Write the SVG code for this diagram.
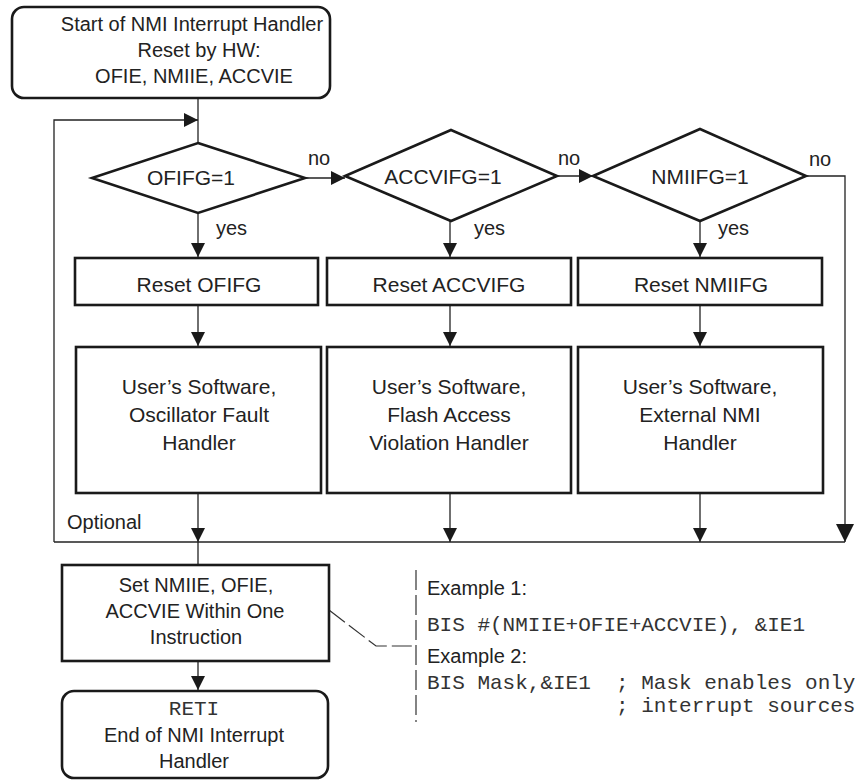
<svg xmlns="http://www.w3.org/2000/svg" width="866" height="781" viewBox="0 0 866 781">
<defs>
<style>
.box{fill:#fff;stroke:#1a1a1a;stroke-width:2.6}
.t{font-family:"Liberation Sans",Arial,sans-serif;font-size:20px;fill:#222;text-anchor:middle}
.t2{font-family:"Liberation Sans",Arial,sans-serif;font-size:21px;fill:#222;text-anchor:middle}
.l{font-family:"Liberation Sans",Arial,sans-serif;font-size:20px;fill:#222}
.m{font-family:"Liberation Mono","Courier New",monospace;font-size:21px;fill:#333}
.c{fill:none;stroke:#222;stroke-width:1.3}
.d{fill:none;stroke:#333;stroke-width:1.2;stroke-dasharray:20 5}
</style>
<marker id="a" viewBox="0 0 12 12" refX="12" refY="6" markerWidth="14" markerHeight="14" markerUnits="userSpaceOnUse" orient="auto"><path d="M0,0 L12,6 L0,12 z" fill="#1a1a1a"/></marker>
<marker id="b" viewBox="0 0 12 12" refX="12" refY="6" markerWidth="18" markerHeight="18" markerUnits="userSpaceOnUse" orient="auto"><path d="M0,0 L12,6 L0,12 z" fill="#1a1a1a"/></marker>
</defs>

<g id="connectors">
<path class="c" d="M198,98 V143"/>
<path class="c" d="M54,542 V120 H198" marker-end="url(#a)"/>
<path class="c" d="M305,178 H345" marker-end="url(#a)"/>
<path class="c" d="M557,176 H593" marker-end="url(#a)"/>
<path class="c" d="M806,176 H845 V542" marker-end="url(#b)"/>
<path class="c" d="M198,213 V257" marker-end="url(#a)"/>
<path class="c" d="M450,221 V257" marker-end="url(#a)"/>
<path class="c" d="M700,221 V257" marker-end="url(#a)"/>
<path class="c" d="M198,305 V346" marker-end="url(#a)"/>
<path class="c" d="M450,305 V346" marker-end="url(#a)"/>
<path class="c" d="M700,305 V346" marker-end="url(#a)"/>
<path class="c" d="M198,493 V542" marker-end="url(#a)"/>
<path class="c" d="M450,493 V542" marker-end="url(#a)"/>
<path class="c" d="M700,493 V542" marker-end="url(#a)"/>
<path class="c" d="M54,542 H845"/>
<path class="c" d="M198,542 V565"/>
<path class="c" d="M198,661 V690" marker-end="url(#a)"/>
<path class="d" d="M329,610 L376,646 H416"/>
<path class="d" d="M416,570 V722"/>
<text class="l" x="308" y="165">no</text>
<text class="l" x="558" y="165">no</text>
<text class="l" x="809" y="166">no</text>
<text class="l" x="216" y="235">yes</text>
<text class="l" x="474" y="235">yes</text>
<text class="l" x="718" y="235">yes</text>
<text class="l" x="67" y="529">Optional</text>
</g>

<g id="start">
<rect class="box" x="12" y="7" width="318" height="91" rx="12"/>
<text class="t" x="192" y="31">Start of NMI Interrupt Handler</text>
<text class="t" x="199" y="57">Reset by HW:</text>
<text class="t" x="194" y="83">OFIE, NMIIE, ACCVIE</text>
</g>

<g id="d1">
<polygon class="box" points="198,143 305,178 198,213 92,178"/>
<text class="t2" x="191" y="185">OFIFG=1</text>
</g>
<g id="d2">
<polygon class="box" points="451,130 557,176 451,221 345,176"/>
<text class="t2" x="443" y="184">ACCVIFG=1</text>
</g>
<g id="d3">
<polygon class="box" points="700,129 806,176 700,221 593,176"/>
<text class="t2" x="700" y="184">NMIIFG=1</text>
</g>

<g id="r1"><rect class="box" x="75" y="258" width="243" height="47"/><text class="t2" x="199" y="292">Reset OFIFG</text></g>
<g id="r2"><rect class="box" x="327" y="258" width="244" height="47"/><text class="t2" x="449" y="292">Reset ACCVIFG</text></g>
<g id="r3"><rect class="box" x="578" y="258" width="244" height="47"/><text class="t2" x="701" y="292">Reset NMIIFG</text></g>

<g id="s1"><rect class="box" x="76" y="347" width="245" height="146"/>
<text class="t2" x="199" y="394">User’s Software,</text>
<text class="t2" x="199" y="422">Oscillator Fault</text>
<text class="t2" x="199" y="450">Handler</text></g>
<g id="s2"><rect class="box" x="327" y="347" width="244" height="146"/>
<text class="t2" x="449" y="394">User’s Software,</text>
<text class="t2" x="449" y="422">Flash Access</text>
<text class="t2" x="449" y="450">Violation Handler</text></g>
<g id="s3"><rect class="box" x="578" y="347" width="245" height="146"/>
<text class="t2" x="700" y="394">User’s Software,</text>
<text class="t2" x="700" y="422">External NMI</text>
<text class="t2" x="700" y="450">Handler</text></g>

<g id="set"><rect class="box" x="62" y="565" width="267" height="96"/>
<text class="t" x="196" y="592">Set NMIIE, OFIE,</text>
<text class="t" x="195" y="618">ACCVIE Within One</text>
<text class="t" x="196" y="644">Instruction</text></g>

<g id="reti"><rect class="box" x="62" y="691" width="266" height="87" rx="12"/>
<text class="m" x="194" y="715" text-anchor="middle">RETI</text>
<text class="t" x="194" y="742">End of NMI Interrupt</text>
<text class="t" x="194" y="768">Handler</text></g>

<g id="examples">
<text class="l" x="427" y="595">Example 1:</text>
<text class="m" x="427" y="631" xml:space="preserve">BIS #(NMIIE+OFIE+ACCVIE), &amp;IE1</text>
<text class="l" x="427" y="663">Example 2:</text>
<text class="m" x="427" y="689" xml:space="preserve">BIS Mask,&amp;IE1  ; Mask enables only</text>
<text class="m" x="427" y="712" xml:space="preserve">               ; interrupt sources</text>
</g>
</svg>
